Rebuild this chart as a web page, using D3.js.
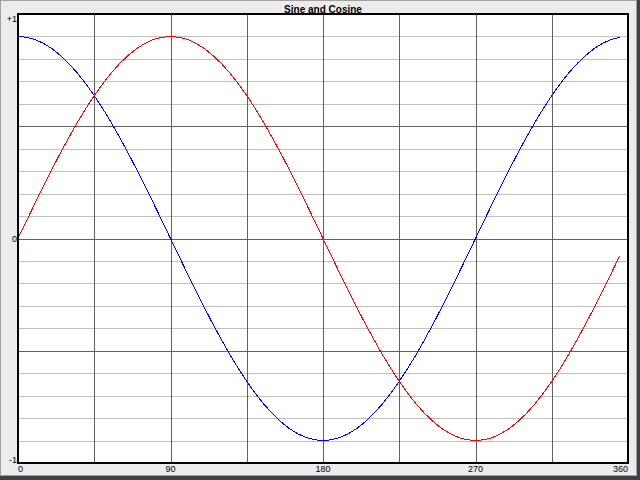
<!DOCTYPE html>
<html>
<head>
<meta charset="utf-8">
<script src="https://cdn.jsdelivr.net/npm/d3@7/dist/d3.min.js"></script>
<style>
html,body{margin:0;padding:0;background:#ececec;}
svg{display:block;}
</style>
</head>
<body>
<svg id="chart" width="640" height="480"></svg>
<script>
// ---- data ----
const title = "Sine and Cosine";
const angles = [0,5,10,15,20,25,30,35,40,45,50,55,60,65,70,75,80,85,90,
  95,100,105,110,115,120,125,130,135,140,145,150,155,160,165,170,175,180,
  185,190,195,200,205,210,215,220,225,230,235,240,245,250,255,260,265,270,
  275,280,285,290,295,300,305,310,315,320,325,330,335,340,345,350,355];
const sineValues = [0,0.087,0.174,0.259,0.342,0.423,0.5,0.574,0.643,0.707,0.766,0.819,0.866,0.906,0.94,0.966,0.985,0.996,1,
  0.996,0.985,0.966,0.94,0.906,0.866,0.819,0.766,0.707,0.643,0.574,0.5,0.423,0.342,0.259,0.174,0.087,0,
  -0.087,-0.174,-0.259,-0.342,-0.423,-0.5,-0.574,-0.643,-0.707,-0.766,-0.819,-0.866,-0.906,-0.94,-0.966,-0.985,-0.996,-1,
  -0.996,-0.985,-0.966,-0.94,-0.906,-0.866,-0.819,-0.766,-0.707,-0.643,-0.574,-0.5,-0.423,-0.342,-0.259,-0.174,-0.087];
const cosineValues = [1,0.996,0.985,0.966,0.94,0.906,0.866,0.819,0.766,0.707,0.643,0.574,0.5,0.423,0.342,0.259,0.174,0.087,0,
  -0.087,-0.174,-0.259,-0.342,-0.423,-0.5,-0.574,-0.643,-0.707,-0.766,-0.819,-0.866,-0.906,-0.94,-0.966,-0.985,-0.996,-1,
  -0.996,-0.985,-0.966,-0.94,-0.906,-0.866,-0.819,-0.766,-0.707,-0.643,-0.574,-0.5,-0.423,-0.342,-0.259,-0.174,-0.087,0,
  0.087,0.174,0.259,0.342,0.423,0.5,0.574,0.643,0.707,0.766,0.819,0.866,0.906,0.94,0.966,0.985,0.996];
const xTickValues = [0,90,180,270,360];
const xTickLabels = ["0","90","180","270","360"];
const xGridValues = [45,90,135,180,225,270,315];
const yTickLabels = ["+1","0","-1"];
const yDivisions = 20;      // horizontal grid divisions
const yMajorEvery = 5;      // darker line every n divisions
const yLimit = 1.1111;

// ---- layout ----
const W = 640, H = 480;
const L = 18, T = 14, R = 628, B = 463;
const svg = d3.select("#chart");

const x = d3.scaleLinear().domain([0, 360]).range([L, R]);
const y = d3.scaleLinear().domain([-yLimit, yLimit]).range([B, T]);
const yGrid = d3.scaleLinear().domain([0, yDivisions]).range([B, T]);
const yLab = d3.scalePoint().domain(yTickLabels).range([T, B]);

// outer frame
svg.append("rect").attr("x",0).attr("y",0).attr("width",W).attr("height",H).attr("fill","#ececec");
svg.append("line").attr("x1",0).attr("y1",0.5).attr("x2",W).attr("y2",0.5).attr("stroke","#a0a0a0");
svg.append("line").attr("x1",0.5).attr("y1",0).attr("x2",0.5).attr("y2",H).attr("stroke","#a0a0a0");
svg.append("rect").attr("x",W-4).attr("y",0).attr("width",1).attr("height",H).attr("fill","#a0a0a0");
svg.append("rect").attr("x",0).attr("y",H-5).attr("width",W).attr("height",1).attr("fill","#a0a0a0");
svg.append("rect").attr("x",W-3).attr("y",0).attr("width",3).attr("height",H).attr("fill","#404040");
svg.append("rect").attr("x",0).attr("y",H-4).attr("width",W).attr("height",4).attr("fill","#404040");

// plot background
svg.append("rect").attr("x",L).attr("y",T).attr("width",R-L).attr("height",B-T).attr("fill","#ffffff");

// horizontal grid
const hLines = d3.range(1, yDivisions);
svg.append("g").selectAll("line").data(hLines.filter(i => i % yMajorEvery !== 0)).join("line")
  .attr("x1",L).attr("x2",R)
  .attr("y1",d => Math.round(yGrid(d)) + 0.5).attr("y2",d => Math.round(yGrid(d)) + 0.5)
  .attr("stroke","#c0c0c0").attr("stroke-width",1).attr("shape-rendering","crispEdges");
svg.append("g").selectAll("line").data(hLines.filter(i => i % yMajorEvery === 0)).join("line")
  .attr("x1",L).attr("x2",R)
  .attr("y1",d => Math.round(yGrid(d)) + 0.5).attr("y2",d => Math.round(yGrid(d)) + 0.5)
  .attr("stroke","#606060").attr("stroke-width",1).attr("shape-rendering","crispEdges");

// vertical grid
svg.append("g").selectAll("line").data(xGridValues).join("line")
  .attr("x1",d => Math.round(x(d)) + 0.5).attr("x2",d => Math.round(x(d)) + 0.5)
  .attr("y1",T).attr("y2",B)
  .attr("stroke","#606060").attr("stroke-width",1).attr("shape-rendering","crispEdges");

// curves
const line = d3.line().x((d,i) => x(angles[i])).y(d => y(d));
svg.append("path").datum(cosineValues).attr("d",line).attr("fill","none")
  .attr("stroke","#0000ff").attr("stroke-width",1).attr("shape-rendering","crispEdges");
svg.append("path").datum(sineValues).attr("d",line).attr("fill","none")
  .attr("stroke","#ff0000").attr("stroke-width",1).attr("shape-rendering","crispEdges");

// plot border
svg.append("rect").attr("x",L).attr("y",T).attr("width",R-L).attr("height",B-T)
  .attr("fill","none").attr("stroke","#000").attr("stroke-width",2);

// title
svg.append("text").attr("x",(L+R)/2).attr("y",12.5).attr("text-anchor","middle")
  .attr("font-family","'Liberation Sans', Arial, sans-serif").attr("font-weight","bold")
  .attr("font-size","10px").attr("fill","#000").text(title);

const labelFont = "'Liberation Sans Narrow','Arial Narrow','Liberation Sans',Arial,sans-serif";

// x labels
svg.append("g").selectAll("text").data(xTickValues).join("text")
  .attr("x",d => x(d)).attr("y",472)
  .attr("text-anchor",(d,i) => i === 0 ? "start" : (i === xTickValues.length-1 ? "end" : "middle"))
  .attr("font-family",labelFont).attr("font-size","9px").attr("fill","#000")
  .text((d,i) => xTickLabels[i]);

// y labels
svg.append("g").selectAll("text").data(yTickLabels).join("text")
  .attr("x",L-1)
  .attr("y",(d,i) => yLab(d) + (i === 0 ? 8 : (i === yTickLabels.length-1 ? -0.5 : 3.5)))
  .attr("text-anchor","end")
  .attr("font-family",labelFont).attr("font-size","9px").attr("fill","#000")
  .text(d => d);
</script>
</body>
</html>
